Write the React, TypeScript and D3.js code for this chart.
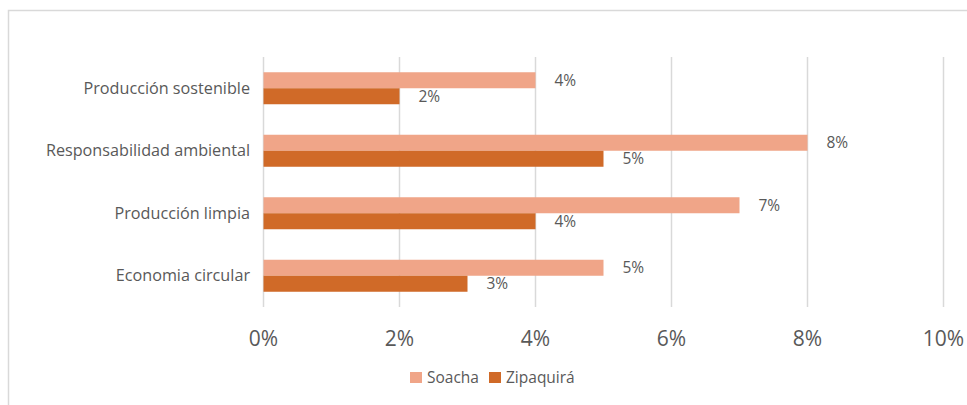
import React from "react";
import * as d3 from "d3";

const categories = ["Producción sostenible", "Responsabilidad ambiental", "Producción limpia", "Economia circular"];
const seriesNames = ["Soacha", "Zipaquirá"];
const soacha = [0.04, 0.08, 0.07, 0.05];
const zipaquira = [0.02, 0.05, 0.04, 0.03];
const ticks = [0, 0.02, 0.04, 0.06, 0.08, 0.1];

const colors = ["#F0A588", "#D06A28"];
const W = 967, H = 405;
const font = "'Open Sans', sans-serif";
const textColor = "#595959";

export default function App() {
  const x = d3.scaleLinear().domain([0, 0.1]).range([263.5, 943.5]);
  const y = d3.scaleBand<string>().domain(categories).range([57, 307]).paddingInner(0.488).paddingOuter(0.244);
  const sub = d3.scaleBand<string>().domain(seriesNames).range([0, y.bandwidth()]);
  const values = [soacha, zipaquira];
  const fmt = d3.format(".0%");
  return (
    <svg width={W} height={H} style={{ position: "absolute", left: 0, top: 0, background: "#fff" }}>
      <rect x={8.5} y={10.5} width={980} height={420} fill="#fff" stroke="#d9d9d9" strokeWidth={1.5} />
      {ticks.map((t) => (
        <line key={t} x1={x(t)} x2={x(t)} y1={57} y2={307} stroke="#d9d9d9" strokeWidth={1.5} />
      ))}
      {categories.map((c, i) => (
        <g key={c}>
          {seriesNames.map((s, j) => (
            <g key={s}>
              <rect x={x(0)} y={y(c)! + sub(s)!} width={x(values[j][i]) - x(0)} height={sub.bandwidth()} fill={colors[j]} />
              <text x={x(values[j][i]) + 19} y={y(c)! + sub(s)! + sub.bandwidth() / 2} dy="0.35em" fontFamily={font} fontSize={15.5} fill={textColor}>
                {fmt(values[j][i])}
              </text>
            </g>
          ))}
          <text x={250} y={y(c)! + y.bandwidth() / 2} dy="0.35em" textAnchor="end" fontFamily={font} fontSize={16.2} fill={textColor}>
            {c}
          </text>
        </g>
      ))}
      {ticks.map((t) => (
        <text key={"t" + t} x={x(t)} y={339} dy="0.35em" textAnchor="middle" fontFamily={font} fontSize={21} fill={textColor}>
          {fmt(t)}
        </text>
      ))}
      <g>
        <rect x={410} y={372} width={12} height={11} fill={colors[0]} />
        <text x={427} y={378} dy="0.35em" fontFamily={font} fontSize={15.5} fill={textColor}>{seriesNames[0]}</text>
        <rect x={489} y={372} width={12} height={11} fill={colors[1]} />
        <text x={506} y={378} dy="0.35em" fontFamily={font} fontSize={15.5} fill={textColor}>{seriesNames[1]}</text>
      </g>
    </svg>
  );
}
